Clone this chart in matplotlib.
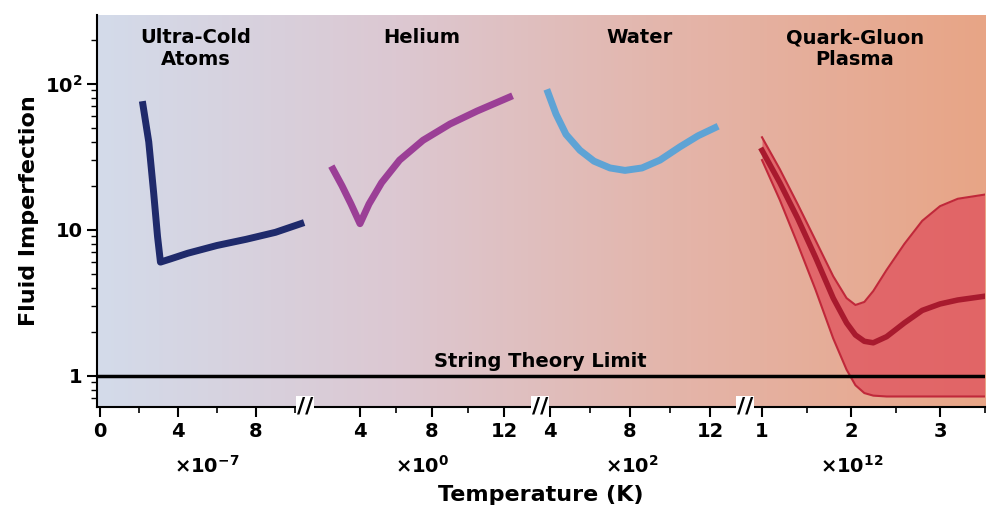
import matplotlib.pyplot as plt
import numpy as np
from matplotlib.colors import LinearSegmentedColormap
from matplotlib.ticker import FixedLocator, NullFormatter

# segment data, each in its own x units
cold_x = [2.2, 2.5, 2.75, 2.95, 3.1, 3.6, 4.5, 6, 7.5, 9, 10.3]
cold_y = [72, 40, 18, 9, 6, 6.3, 6.9, 7.8, 8.6, 9.6, 11]
he_x = [2.5, 3.0, 3.5, 4.0, 4.5, 5.2, 6.2, 7.5, 9.0, 10.5, 12.3]
he_y = [26, 20, 15, 11, 15, 21, 30, 41, 53, 65, 81]
water_x = [3.9, 4.3, 4.8, 5.5, 6.2, 7.0, 7.75, 8.6, 9.5, 10.5, 11.4, 12.25]
water_y = [87, 62, 45, 35, 29.5, 26.5, 25.5, 26.5, 30, 37, 44, 50]
qgp_x = [1.0, 1.2, 1.4, 1.6, 1.8, 1.95, 2.05, 2.15, 2.25, 2.4, 2.6, 2.8, 3.0, 3.2, 3.5]
qgp_mid = [35, 21, 12, 6.5, 3.4, 2.3, 1.9, 1.72, 1.68, 1.85, 2.3, 2.8, 3.1, 3.3, 3.5]
qgp_hi = [43, 26, 15, 8.5, 4.8, 3.4, 3.05, 3.2, 3.8, 5.3, 8.0, 11.5, 14.5, 16.3, 17.4]
qgp_lo = [30, 16, 8.0, 3.9, 1.8, 1.1, 0.86, 0.76, 0.73, 0.72, 0.72, 0.72, 0.72, 0.72, 0.72]

# segment -> pixel-like x axis (offset, scale)
segs = {
    'cold': (100, 19.5),
    'he': (360 - 4 * 18, 18),
    'water': (550 - 4 * 20, 20),
    'qgp': (762 - 89, 89),
}

def tx(seg, x):
    off, sc = segs[seg]
    return off + sc * np.asarray(x, dtype=float)

fig = plt.figure(figsize=(10.05, 5.05), dpi=100)
ax = fig.add_axes([97 / 1005, 98 / 505, 888 / 1005, 392 / 505])
ax.set_yscale('log')
ax.set_xlim(97, 985)
ax.set_ylim(0.61, 296)

cmap = LinearSegmentedColormap.from_list('bg', ['#d3dbea', '#dcc8d2', '#e4b4a8', '#e8a586'])
grad = np.linspace(0, 1, 256).reshape(1, -1)
ax.imshow(grad, cmap=cmap, aspect='auto', extent=[0, 1, 0, 1],
          transform=ax.transAxes, zorder=0)

ax.plot(tx('cold', cold_x), cold_y, color='#1f2a6b', lw=5, zorder=3, solid_joinstyle='round')
ax.plot(tx('he', he_x), he_y, color='#9b3f96', lw=5, zorder=3, solid_joinstyle='round')
ax.plot(tx('water', water_x), water_y, color='#5ea3d5', lw=5, zorder=3, solid_joinstyle='round')
qx = tx('qgp', qgp_x)
ax.fill_between(qx, qgp_lo, qgp_hi, color='#e0505c', alpha=0.75, lw=0, zorder=2)
ax.plot(qx, qgp_hi, color='#c0283a', lw=1.5, zorder=3)
ax.plot(qx, qgp_lo, color='#c0283a', lw=1.5, zorder=3)
ax.plot(qx, qgp_mid, color='#a81a2e', lw=4, zorder=3, solid_joinstyle='round')

ax.axhline(1, color='black', lw=2.5, zorder=4)
ax.text(540, 1.08, 'String Theory Limit', ha='center', va='bottom',
        fontsize=14, fontweight='bold')

for x, t in [(196, 'Ultra-Cold\nAtoms'), (422, 'Helium'), (640, 'Water'), (855, 'Quark-Gluon\nPlasma')]:
    ax.text(x, 240, t, ha='center', va='top', fontsize=14, fontweight='bold')

# x ticks
majors, labels, minors = [], [], []
for seg, vals, mins in [('cold', [0, 4, 8], [2, 6, 10]),
                        ('he', [4, 8, 12], [6, 10]),
                        ('water', [4, 8, 12], [6, 10]),
                        ('qgp', [1, 2, 3], [1.5, 2.5, 3.5])]:
    majors += list(tx(seg, vals))
    labels += [str(v) for v in vals]
    minors += list(tx(seg, mins))
ax.set_xticks(majors)
ax.set_xticklabels(labels, fontsize=14, fontweight='bold')
ax.xaxis.set_minor_locator(FixedLocator(minors))
ax.tick_params(axis='x', which='major', length=7, width=1.5, direction='out')
ax.tick_params(axis='x', which='minor', length=4, width=1.2, direction='out')

ax.set_yticks([1, 10, 100])
ax.set_yticklabels(['1', '10', r'$\mathbf{10^2}$'], fontsize=14, fontweight='bold')
ax.yaxis.set_minor_formatter(NullFormatter())
ax.tick_params(axis='y', which='major', length=7, width=1.5)
ax.tick_params(axis='y', which='minor', length=4, width=1)

for x, t in [(207, r'$\mathbf{\times 10^{-7}}$'), (422, r'$\mathbf{\times 10^{0}}$'),
             (632, r'$\mathbf{\times 10^{2}}$'), (852, r'$\mathbf{\times 10^{12}}$')]:
    ax.text(x, -0.15, t, transform=ax.get_xaxis_transform(), ha='center', va='center',
            fontsize=14, fontweight='bold')

for x in [305, 540, 745]:
    ax.text(x, 0, '//', transform=ax.get_xaxis_transform(), ha='center', va='center',
            fontsize=16, fontweight='bold',
            bbox=dict(facecolor='white', edgecolor='none', pad=0.5), zorder=6, clip_on=False)

for s in ['top', 'right']:
    ax.spines[s].set_visible(False)
for s in ['left', 'bottom']:
    ax.spines[s].set_linewidth(1.5)

ax.set_xlabel('Temperature (K)', fontsize=16, fontweight='bold', labelpad=32)
ax.set_ylabel('Fluid Imperfection', fontsize=16, fontweight='bold')

fig.savefig('out.png', dpi=100)
